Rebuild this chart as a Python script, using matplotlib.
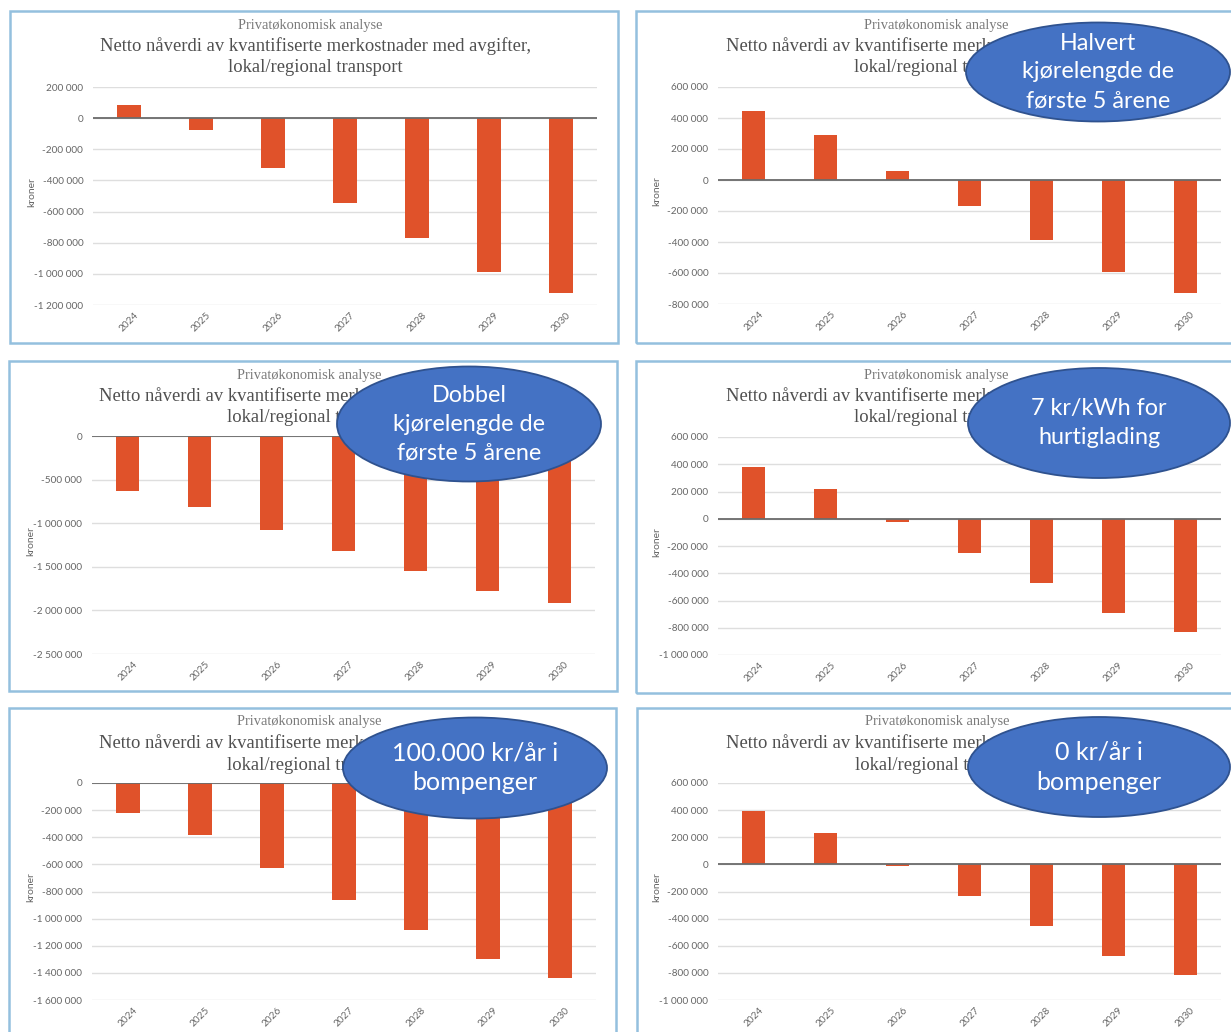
import matplotlib
matplotlib.use("Agg")
import matplotlib.pyplot as plt
import matplotlib.patches as patches
from matplotlib.ticker import FuncFormatter, MultipleLocator

# --- Data: net present value (kroner) per scenario ---
years = ['2024', '2025', '2026', '2027', '2028', '2029', '2030']

base_case = [85000, -77000, -323000, -548000, -772000, -990000, -1125000]
half_mileage = [444000, 292000, 56000, -167000, -386000, -596000, -729000]
double_mileage = [-627000, -814000, -1074000, -1315000, -1548000, -1774000, -1919000]
fast_charge_7kr = [378000, 215000, -27000, -254000, -473000, -690000, -829000]
toll_100k = [-221000, -386000, -629000, -860000, -1084000, -1300000, -1437000]
toll_zero = [394000, 234000, -12000, -234000, -457000, -679000, -813000]

subtitle = 'Privatøkonomisk analyse'
title_lines = ['Netto nåverdi av kvantifiserte merkostnader med avgifter,',
               'lokal/regional transport']
y_label = 'kroner'

callouts = [None,
            ['Halvert', 'kjørelengde de', 'første 5 årene'],
            ['Dobbel', 'kjørelengde de', 'første 5 årene'],
            ['7 kr/kWh for', 'hurtiglading'],
            ['100.000 kr/år i', 'bompenger'],
            ['0 kr/år i', 'bompenger']]

series = [base_case, half_mileage, double_mileage, fast_charge_7kr, toll_100k, toll_zero]
y_ranges = [(-1200000, 200000, 200000), (-800000, 600000, 200000),
            (-2500000, 0, 500000), (-1000000, 600000, 200000),
            (-1600000, 0, 200000), (-1000000, 600000, 200000)]

# --- Layout in pixels (x0, y0, x1, y1 from the top-left corner) ---
W, H = 1231, 1032
BAR_COLOR = '#E0522A'
FRAME_COLOR = '#94C0DE'
ELLIPSE_FILL = '#4472C4'
ELLIPSE_EDGE = '#2F528F'

frames = [(10, 11, 618, 343), (636, 11, 1240, 343),
          (9, 361, 617, 691), (636, 361, 1240, 693),
          (9, 708, 616, 1045), (637, 708, 1240, 1045)]
plot_areas = [(93, 87, 597, 305), (718, 87, 1221, 304),
              (92, 436, 595, 654), (718, 437, 1221, 655),
              (92, 783, 596, 1000), (718, 783, 1221, 1000)]
# centre x, centre y, width, height, font size of the callout text
ellipses = [None,
            (1098, 72, 264, 99, 16.8),
            (469, 424, 264, 115, 16.8),
            (1099, 423, 262, 110, 16.8),
            (475, 768, 264, 101, 18),
            (1099, 767, 262, 100, 18)]


def fx(x):
    return x / W


def fy(y):
    return 1 - y / H


def kroner(v, _pos):
    s = f'{abs(int(round(v))):,}'.replace(',', ' ')
    return ('-' + s) if v < 0 else s


fig = plt.figure(figsize=(W / 100, H / 100), dpi=100)
fig.patch.set_facecolor('white')

for i, values in enumerate(series):
    fx0, fy0, fx1, fy1 = frames[i]
    fig.add_artist(patches.Rectangle((fx(fx0), fy(fy1)), fx(fx1 - fx0), (fy1 - fy0) / H,
                                     transform=fig.transFigure, fill=False,
                                     edgecolor=FRAME_COLOR, linewidth=1.8, zorder=1))

    # chart headings, centred 300 px right of the frame edge
    cx = fx0 + 300
    fig.text(fx(cx), fy(fy0 + 14), subtitle, ha='center', va='center',
             family='Liberation Serif', fontsize=10.4, color='#7a7a7a')
    for k, line in enumerate(title_lines):
        fig.text(fx(cx + 5), fy(fy0 + 35 + 22 * k), line, ha='center', va='center',
                 family='Liberation Serif', fontsize=13.4, color='#505050')

    x0, y0, x1, y1 = plot_areas[i]
    ax = fig.add_axes([fx(x0), fy(y1), fx(x1 - x0), (y1 - y0) / H])
    lo, hi, step = y_ranges[i]
    pos = range(len(years))
    ax.bar(pos, values, width=0.32, color=BAR_COLOR, zorder=2)
    ax.axhline(0, color='#6b6b6b', linewidth=1.3, zorder=3)
    ax.set_xlim(-0.5, len(years) - 0.5)
    ax.set_ylim(lo, hi)
    ax.yaxis.set_major_locator(MultipleLocator(step))
    ax.yaxis.set_major_formatter(FuncFormatter(kroner))
    ax.grid(axis='y', color='#dedede', linewidth=1.0, zorder=0)
    ax.set_axisbelow(True)
    ax.set_xticks(list(pos))
    ax.set_xticklabels(years, rotation=45, ha='center', va='top')
    ax.tick_params(length=0, labelsize=7.2, labelcolor='#666666')
    ax.tick_params(axis='y', pad=7)
    ax.tick_params(axis='x', pad=4)
    for lbl in ax.get_xticklabels() + ax.get_yticklabels():
        lbl.set_family('Lato')
    for sp in ax.spines.values():
        sp.set_visible(False)
    fig.text(fx(x0 - 61), fy((y0 + y1) / 2 - 4), y_label, rotation=90,
             ha='center', va='center', family='Lato', fontsize=7.5, color='#666666')

    if ellipses[i] is not None:
        ex, ey, ew, eh, fs = ellipses[i]
        fig.add_artist(patches.Ellipse((fx(ex), fy(ey)), ew / W, eh / H,
                                       transform=fig.transFigure, facecolor=ELLIPSE_FILL,
                                       edgecolor=ELLIPSE_EDGE, linewidth=1.3, zorder=5))
        lines = callouts[i]
        gap = 28.5 if fs < 17.5 else 30
        start = ey - gap * (len(lines) - 1) / 2
        for k, line in enumerate(lines):
            fig.text(fx(ex), fy(start + gap * k), line, ha='center', va='center',
                     family='Lato', fontsize=fs, color='white', zorder=6)

fig.savefig('out.png', dpi=100, facecolor='white')
